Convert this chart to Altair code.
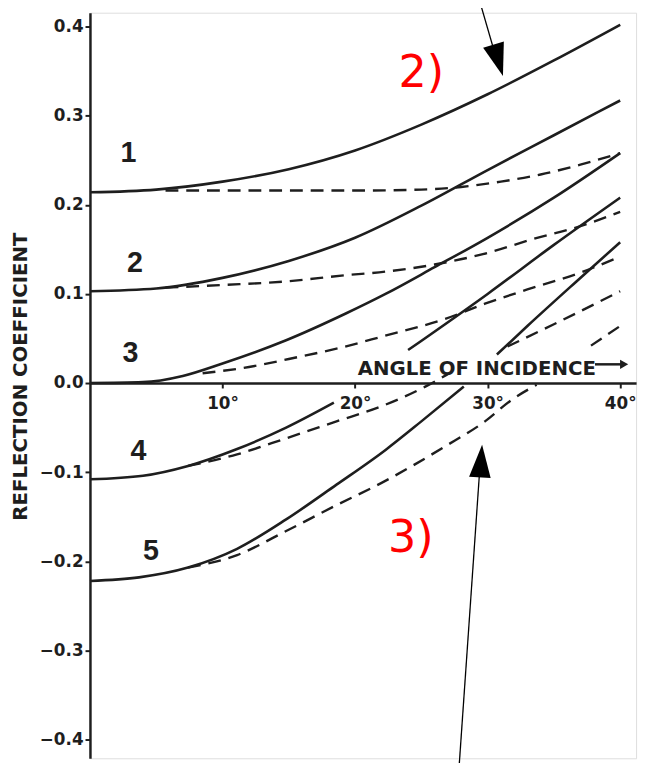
import altair as alt
import pandas as pd

# ---------------- data ----------------
# solid curves (exact) and dashed curves (approximation); angle in degrees
S1_A = [0, 5, 10, 15, 20, 25, 30, 35, 40]
S1_V = [0.214, 0.217, 0.226, 0.240, 0.261, 0.290, 0.324, 0.362, 0.402]
D1_A = [5.7, 10, 15, 20, 25, 28, 31, 34, 37, 40]
D1_V = [0.216, 0.216, 0.216, 0.216, 0.217, 0.220, 0.226, 0.234, 0.245, 0.258]

S2_A = [0, 5, 10, 15, 20, 25, 30, 35, 40]
S2_V = [0.103, 0.106, 0.118, 0.137, 0.163, 0.199, 0.239, 0.278, 0.317]
D2_A = [5.7, 10, 14.8, 19.3, 22.3, 26, 30, 33.3, 37, 40]
D2_V = [0.107, 0.110, 0.114, 0.121, 0.125, 0.133, 0.146, 0.161, 0.176, 0.192]

S3_A = [0, 4, 7, 10, 14.8, 19.3, 22.3, 26, 30, 35, 40]
S3_V = [0.0, 0.001, 0.008, 0.022, 0.048, 0.078, 0.100, 0.130, 0.163, 0.208, 0.258]
D3_A = [8.5, 12, 15, 19, 22, 26.8, 29.8, 33, 37.2, 40]
D3_V = [0.011, 0.018, 0.027, 0.040, 0.052, 0.072, 0.089, 0.105, 0.125, 0.142]

S4A_A = [0, 4, 7.4, 11.1, 14.8, 18.4]
S4A_V = [-0.108, -0.104, -0.093, -0.074, -0.050, -0.022]
S4B_A = [24, 30, 35, 40]
S4B_V = [0.037, 0.100, 0.155, 0.208]
D4A_A = [7.4, 11.1, 14.8, 18.6, 22, 25.3, 27]
D4A_V = [-0.093, -0.080, -0.062, -0.043, -0.026, -0.004, 0.010]
D4B_A = [31.5, 35, 40]
D4B_V = [0.041, 0.066, 0.103]

S5A_A = [0, 3.7, 7.4, 11.1, 14.8, 18.6, 22.3, 25, 28.2]
S5A_V = [-0.222, -0.218, -0.207, -0.186, -0.153, -0.114, -0.075, -0.043, -0.004]
S5B_A = [30.7, 33, 36.7, 40]
S5B_V = [0.032, 0.064, 0.114, 0.158]
D5A_A = [7.4, 11.1, 14.8, 18.6, 22, 26.8, 29.8, 31.8, 33.7]
D5A_V = [-0.207, -0.193, -0.166, -0.137, -0.112, -0.071, -0.043, -0.019, -0.002]
D5B_A = [37.8, 40]
D5B_V = [0.042, 0.064]

# curve number labels
NUM_TEXT = ["1", "2", "3", "4", "5"]
NUM_A = [2.9, 3.4, 3.05, 3.65, 4.6]
NUM_V = [0.258, 0.134, 0.034, -0.076, -0.188]

# y ticks, x ticks
Y_TICKS = [-0.4, -0.3, -0.2, -0.1, 0.0, 0.1, 0.2, 0.3, 0.4]
X_TICKS = [10, 20, 30, 40]

# red annotation labels
RED_TEXT = ["2)", "3)"]
RED_A = [25.0, 24.2]
RED_V = [0.332, -0.189]

# annotation arrows (start -> head centre), head rotation
ARR_A = [29.49, 27.85]
ARR_V = [0.424, -0.430]
ARR_A2 = [30.68, 29.45]
ARR_V2 = [0.363, -0.0875]
HEAD_A = [30.8, 29.5]
HEAD_V = [0.362, -0.0875]
HEAD_ROT = [163.2, 3.9]

# x-axis caption
CAP_TEXT = ["ANGLE OF INCIDENCE"]
CAP_A = [20.2]
CAP_V = [0.009]
CAP_ARROW_A = [38.1]
CAP_ARROW_A2 = [40.3]
CAP_ARROW_V = [0.021]

# ---------------- tables ----------------
def seg(key, a, v):
    return pd.DataFrame({"angle": a, "value": v, "key": key})

solid = pd.concat([
    seg("s1", S1_A, S1_V), seg("s2", S2_A, S2_V), seg("s3", S3_A, S3_V),
    seg("s4a", S4A_A, S4A_V), seg("s4b", S4B_A, S4B_V),
    seg("s5a", S5A_A, S5A_V), seg("s5b", S5B_A, S5B_V),
], ignore_index=True)
dashed = pd.concat([
    seg("d1", D1_A, D1_V), seg("d2", D2_A, D2_V), seg("d3", D3_A, D3_V),
    seg("d4a", D4A_A, D4A_V), seg("d4b", D4B_A, D4B_V),
    seg("d5a", D5A_A, D5A_V), seg("d5b", D5B_A, D5B_V),
], ignore_index=True)
nums = pd.DataFrame({"angle": NUM_A, "value": NUM_V, "t": NUM_TEXT})
reds = pd.DataFrame({"angle": RED_A, "value": RED_V, "t": RED_TEXT})
arrows = pd.DataFrame({"angle": ARR_A, "value": ARR_V, "angle2": ARR_A2, "value2": ARR_V2})
caption = pd.DataFrame({"angle": CAP_A, "value": CAP_V, "t": CAP_TEXT})
cap_arrow = pd.DataFrame({"angle": CAP_ARROW_A, "angle2": CAP_ARROW_A2, "value": CAP_ARROW_V})

INK = "#1e1e1e"
W, H = 553, 755
Y_DOM = [-0.421, 0.4155]
X_DOM = [0, 41.2]
y0_from_top = H * Y_DOM[1] / (Y_DOM[1] - Y_DOM[0])

x_axis = alt.Axis(values=X_TICKS, labelExpr="datum.value + '°'", title=None,
                  grid=False, offset=-(H - y0_from_top), domainColor=INK, domainWidth=2.5,
                  tickColor=INK, tickWidth=2, tickSize=5, labelPadding=8,
                  labelFont="DejaVu Sans", labelFontWeight="bold", labelFontSize=17,
                  labelColor=INK)
y_axis = alt.Axis(values=Y_TICKS, format=".1f", title="REFLECTION COEFFICIENT", grid=False,
                  domainColor=INK, domainWidth=2.5, tickColor=INK, tickWidth=2, tickSize=5,
                  labelPadding=2, labelFont="DejaVu Sans", labelFontWeight="bold",
                  labelFontSize=17, labelColor=INK,
                  titleFont="DejaVu Sans", titleFontWeight="bold", titleFontSize=20,
                  titleColor=INK, titleX=-70, titleY=368, titleAngle=270,
                  titleAlign="center", titleBaseline="middle")

X = alt.X("angle:Q", scale=alt.Scale(domain=X_DOM, nice=False, zero=False), axis=x_axis)
Y = alt.Y("value:Q", scale=alt.Scale(domain=Y_DOM, nice=False, zero=False), axis=y_axis)

solid_layer = alt.Chart(solid).mark_line(color=INK, strokeWidth=2.6, interpolate="monotone").encode(
    x=X, y=Y, detail="key:N", order="angle:Q")
dashed_layer = alt.Chart(dashed).mark_line(color=INK, strokeWidth=2.4, strokeDash=[13, 8],
                                           interpolate="monotone").encode(
    x=X, y=Y, detail="key:N", order="angle:Q")
num_layer = alt.Chart(nums).mark_text(font="Liberation Sans", fontWeight="bold", fontSize=29,
                                      color=INK, align="center", baseline="middle").encode(
    x=X, y=Y, text="t:N")
red_layer = alt.Chart(reds).mark_text(font="DejaVu Sans", fontSize=45, color="#ff0000",
                                      align="center", baseline="alphabetic").encode(
    x=X, y=Y, text="t:N")
arrow_layer = alt.Chart(arrows).mark_rule(color="black", strokeWidth=1.3).encode(
    x=X, y=Y, x2="angle2:Q", y2="value2:Q")
heads = []
for a, v, r in zip(HEAD_A, HEAD_V, HEAD_ROT):
    heads.append(alt.Chart(pd.DataFrame({"angle": [a], "value": [v]})).mark_point(
        shape="M0,-1L-0.66,1L0.66,1Z", size=1100, filled=True, color="black",
        opacity=1, angle=r).encode(x=X, y=Y))
cap_layer = alt.Chart(caption).mark_text(font="DejaVu Sans", fontWeight="bold", fontSize=20,
                                         color=INK, align="left", baseline="alphabetic").encode(
    x=X, y=Y, text="t:N")
cap_arrow_rule = alt.Chart(cap_arrow).mark_rule(color=INK, strokeWidth=2.5).encode(
    x=X, x2="angle2:Q", y=Y)
cap_arrow_head = alt.Chart(cap_arrow).mark_point(shape="triangle-right", size=90, filled=True,
                                                 color=INK, opacity=1).encode(
    x=alt.X("angle2:Q", scale=alt.Scale(domain=X_DOM, nice=False, zero=False), axis=x_axis),
    y=Y)

chart = alt.layer(solid_layer, dashed_layer, num_layer, red_layer, arrow_layer, *heads,
                  cap_layer, cap_arrow_rule, cap_arrow_head).properties(
    width=W, height=H,
    autosize=alt.AutoSizeParams(type="none"),
    padding={"left": 83, "top": 0, "right": 6, "bottom": 0},
).configure_view(stroke=None).configure(background="white")

chart.save("out.html", embed_options={"renderer": "svg", "actions": False})
